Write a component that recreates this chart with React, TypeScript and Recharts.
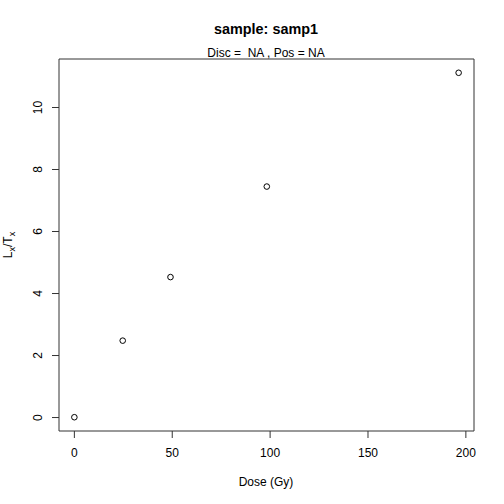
import { ScatterChart, Scatter, XAxis, YAxis, ReferenceArea, Customized } from 'recharts'

const doses = [0, 24.7, 49.1, 98.3, 196.3]
const lxTx = [0.01, 2.48, 4.53, 7.45, 11.12]
const xTicks = [0, 50, 100, 150, 200]
const yTicks = [0, 2, 4, 6, 8, 10]

const data = doses.map((d, i) => ({ dose: d, lxtx: lxTx[i] }))

// R-style 4% padding around data range
const xPad = (Math.max(...doses) - Math.min(...doses)) * 0.04
const yPad = (Math.max(...lxTx) - Math.min(...lxTx)) * 0.04
const xDomain = [Math.min(...doses) - xPad, Math.max(...doses) + xPad]
const yDomain = [Math.min(...lxTx) - yPad, Math.max(...lxTx) + yPad]

const FONT = '"Liberation Sans", Arial, Helvetica, sans-serif'

function YTick(props: any) {
  const { x, y, payload } = props
  return (
    <text x={x} y={y} transform={`rotate(-90, ${x}, ${y})`} textAnchor="middle"
      fontSize={12} fontFamily={FONT} fill="#000">
      {payload.value}
    </text>
  )
}

function Titles() {
  return (
    <g fontFamily={FONT} fill="#000">
      <text x={266} y={34} textAnchor="middle" fontSize={14.4} fontWeight="bold">sample: samp1</text>
      <text x={266} y={57} textAnchor="middle" fontSize={12} style={{ whiteSpace: 'pre' }}>Disc =  NA , Pos = NA</text>
      <text x={266} y={486} textAnchor="middle" fontSize={12}>Dose (Gy)</text>
      <text x={12} y={245} transform="rotate(-90, 12, 245)" textAnchor="middle" fontSize={12}>
        <tspan>L</tspan>
        <tspan dy={3} fontSize={9}>x</tspan>
        <tspan dy={-3}>/T</tspan>
        <tspan dy={3} fontSize={9}>x</tspan>
      </text>
    </g>
  )
}

export default function App() {
  return (
    <div style={{ position: 'absolute', left: 0, top: 0, background: '#fff' }}>
      <ScatterChart width={504} height={504} margin={{ top: 59, right: 30, bottom: 33, left: 0 }}>
        <XAxis
          type="number"
          dataKey="dose"
          domain={xDomain}
          ticks={xTicks}
          allowDataOverflow
          height={40}
          axisLine={false}
          tickSize={7}
          tickMargin={10}
          tickLine={{ stroke: '#333' }}
          tick={{ fontSize: 12, fontFamily: FONT, fill: '#000' }}
        />
        <YAxis
          type="number"
          dataKey="lxtx"
          domain={yDomain}
          ticks={yTicks}
          allowDataOverflow
          width={59}
          axisLine={false}
          tickSize={7}
          tickMargin={10}
          tickLine={{ stroke: '#333' }}
          tick={<YTick />}
        />
        <ReferenceArea x1={xDomain[0]} x2={xDomain[1]} y1={yDomain[0]} y2={yDomain[1]}
          fill="none" stroke="#333" strokeWidth={1} fillOpacity={0} ifOverflow="visible" />
        <Scatter
          data={data}
          isAnimationActive={false}
          shape={(p: any) => <circle cx={p.cx} cy={p.cy} r={2.8} fill="none" stroke="#000" strokeWidth={1} />}
        />
        <Customized component={Titles} />
      </ScatterChart>
    </div>
  )
}
